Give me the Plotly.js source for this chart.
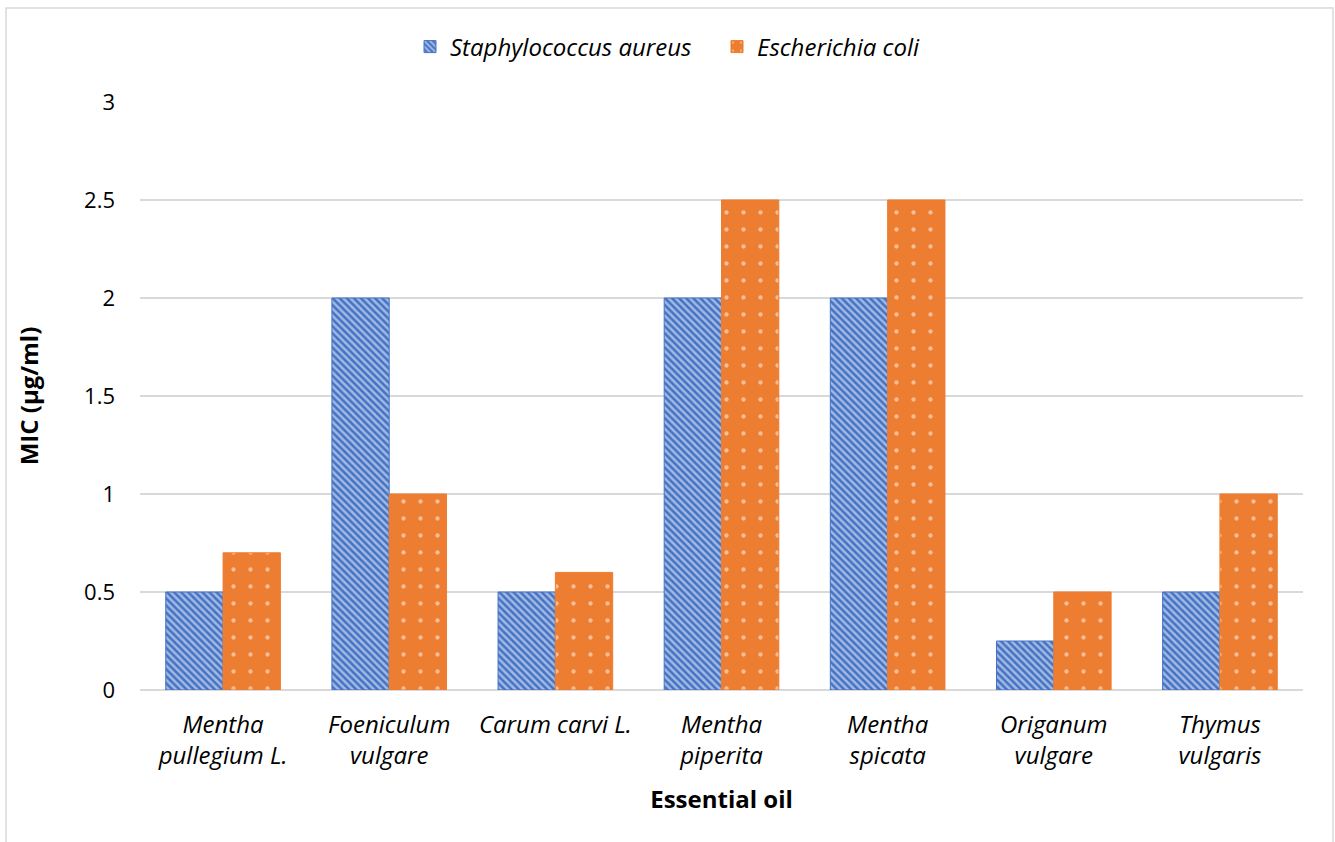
<!DOCTYPE html>
<html>
<head>
<meta charset="utf-8">
<script src="https://cdn.plot.ly/plotly-3.0.1.min.js"></script>
<style>html,body{margin:0;padding:0;background:#fff;}#chart{width:1335px;height:842px;}</style>
</head>
<body>
<div id="chart"></div>
<script>
const categories = ["Mentha<br>pullegium L.", "Foeniculum<br>vulgare", "Carum carvi L.", "Mentha<br>piperita", "Mentha<br>spicata", "Origanum<br>vulgare", "Thymus<br>vulgaris"];
const seriesNames = ["Staphylococcus aureus", "Escherichia coli"];
const staphValues = [0.5, 2, 0.5, 2, 2, 0.25, 0.5];
const ecoliValues = [0.7, 1, 0.6, 2.5, 2.5, 0.5, 1];
const yTicks = [0, 0.5, 1, 1.5, 2, 2.5, 3];

const FONT = "Open Sans, Noto Sans, sans-serif";
const L = 140, R = 32, T = 102, B = 152, W = 1335, H = 842;
const pw = W - L - R, ph = H - T - B;

const traces = [
  {
    type: 'bar', name: seriesNames[0], x: categories, y: staphValues,
    marker: {
      color: '#4472C4',
      line: {color: '#4472C4', width: 1},
      pattern: {shape: '\\', fillmode: 'overlay', bgcolor: '#4472C4', fgcolor: '#ffffff', size: 5, solidity: 0.5}
    }
  },
  {
    type: 'bar', name: seriesNames[1], x: categories, y: ecoliValues,
    marker: {
      color: '#ED7D31',
      line: {color: '#ED7D31', width: 1},
      pattern: {shape: '.', fillmode: 'overlay', bgcolor: '#ED7D31', fgcolor: '#ffffff', size: 17, solidity: 0.05}
    }
  }
];

const layout = {
  width: W, height: H,
  margin: {l: L, r: R, t: T, b: B},
  paper_bgcolor: '#ffffff', plot_bgcolor: '#ffffff',
  font: {family: FONT, size: 22, color: '#000000'},
  barmode: 'group', bargap: 0.31, bargroupgap: 0,
  showlegend: true,
  legend: {orientation: 'h', x: (410 - L) / pw, xanchor: 'left', y: (H - B - 47) / ph, yanchor: 'middle',
           font: {family: FONT, size: 24, style: 'italic'}, itemwidth: 30, entrywidth: 262},
  xaxis: {
    type: 'category', showgrid: false, showline: false, zeroline: false, ticks: '',
    tickfont: {family: FONT, size: 24, style: 'italic'},
    ticklabelstandoff: 18,
    title: {text: 'Essential oil', font: {family: FONT, size: 24, weight: 'bold'}, standoff: 20},
    automargin: false
  },
  yaxis: {
    range: [0, 3], tickvals: yTicks, ticktext: yTicks.map(String),
    showgrid: true, gridcolor: '#d9d9d9', gridwidth: 1.5,
    zeroline: true, zerolinecolor: '#d9d9d9', zerolinewidth: 1.5,
    showline: false, ticks: '', ticklen: 0,
    tickfont: {family: FONT, size: 22},
    ticklabelstandoff: 24,
    title: {text: 'MIC (µg/ml)', font: {family: FONT, size: 24, weight: 'bold'}, standoff: 38},
    automargin: false
  },
  shapes: [{
    type: 'rect', xref: 'paper', yref: 'paper', layer: 'below',
    x0: (6 - L) / pw, x1: (1333 - L) / pw,
    y0: (H - B - 860) / ph, y1: (H - B - 8) / ph,
    line: {color: '#d9d9d9', width: 1.5}
  }]
};

Plotly.newPlot('chart', traces, layout, {displayModeBar: false, staticPlot: true});
</script>
</body>
</html>
